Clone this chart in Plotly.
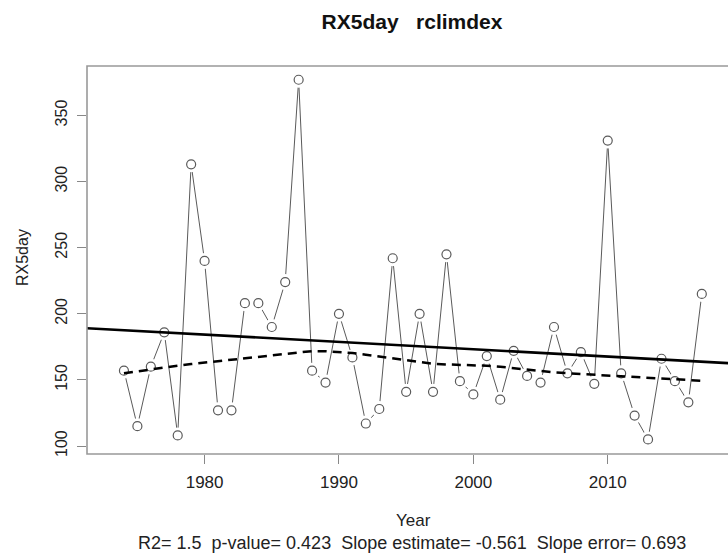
import numpy as np
import plotly.graph_objects as go

years = list(range(1974, 2018))
rx5day = [157, 115, 160, 186, 108, 313, 240, 127, 127, 208, 208, 190, 224, 377,
          157, 148, 200, 167, 117, 128, 242, 141, 200, 141, 245, 149, 139, 168,
          135, 172, 153, 148, 190, 155, 171, 147, 331, 155, 123, 105, 166, 149,
          133, 215]

title_text = "RX5day\u00a0\u00a0\u00a0rclimdex"
y_label = "RX5day"
x_label = "Year"
stats_text = "R2= 1.5\u00a0\u00a0p-value= 0.423\u00a0\u00a0Slope estimate= -0.561\u00a0\u00a0Slope error= 0.693"
x_ticks = [1980, 1990, 2000, 2010]
y_ticks = [100, 150, 200, 250, 300, 350]


def r_lowess(x, y, f=2/3, iters=3):
    x = np.asarray(x, float)
    y = np.asarray(y, float)
    n = len(x)
    ns = max(min(int(f * n + 1e-7), n), 2)
    rw = np.ones(n)
    ys = np.zeros(n)
    rng = x[-1] - x[0]
    for it in range(iters + 1):
        nleft, nright = 0, ns - 1
        for i in range(n):
            while nright < n - 1 and x[i] - x[nleft] > x[nright + 1] - x[i]:
                nleft += 1
                nright += 1
            h = max(x[i] - x[nleft], x[nright] - x[i])
            h9, h1 = 0.999 * h, 0.001 * h
            r = np.abs(x - x[i])
            w = np.zeros(n)
            inside = r <= h9
            w[inside] = (1 - (r[inside] / h) ** 3) ** 3
            w[r <= h1] = 1.0
            w *= rw
            s = w.sum()
            if s <= 0:
                ys[i] = y[i]
                continue
            w = w / s
            a = np.sum(w * x)
            c = np.sum(w * (x - a) ** 2)
            if np.sqrt(c) > 0.001 * rng:
                b = (x[i] - a) / c
                w = w * (b * (x - a) + 1.0)
            ys[i] = np.sum(w * y)
        if it == iters:
            break
        res = y - ys
        cmad = 6 * np.median(np.abs(res))
        if cmad < 1e-7 * np.mean(np.abs(y)):
            break
        ar = np.abs(res)
        rw = np.where(ar <= 0.001 * cmad, 1.0,
                      np.where(ar > 0.999 * cmad, 0.0, (1 - (ar / cmad) ** 2) ** 2))
    return ys


xa = np.array(years, float)
ya = np.array(rx5day, float)
slope, intercept = np.polyfit(xa, ya, 1)
x_range = [1971.25, 2018.95]
trend_x = [x_range[0] - 1, x_range[1] + 1]
trend_y = [intercept + slope * v for v in trend_x]
smooth = r_lowess(xa, ya)

grey = "#5a5a5a"
fig = go.Figure()
fig.add_trace(go.Scatter(x=years, y=rx5day, mode="lines",
                         line=dict(color=grey, width=1), hoverinfo="skip"))
fig.add_trace(go.Scatter(x=years, y=rx5day, mode="markers",
                         marker=dict(symbol="circle", size=16, color="white",
                                     line=dict(width=0)), hoverinfo="skip"))
fig.add_trace(go.Scatter(x=years, y=rx5day, mode="markers",
                         marker=dict(symbol="circle-open", size=9, color=grey,
                                     line=dict(width=1.2, color=grey))))
fig.add_trace(go.Scatter(x=trend_x, y=trend_y, mode="lines",
                         line=dict(color="black", width=2.5), cliponaxis=True))
fig.add_trace(go.Scatter(x=years, y=smooth, mode="lines",
                         line=dict(color="black", width=2.5, dash="9px,6px")))

fig.update_layout(
    width=728, height=555,
    margin=dict(l=87, r=0, t=66, b=101),
    paper_bgcolor="white", plot_bgcolor="white",
    showlegend=False,
    font=dict(family="Liberation Sans, Arial, sans-serif", color="#222"),
    title=dict(text="<b>" + title_text + "</b>", xref="container", x=412 / 728,
               xanchor="center", yref="container", y=1 - 22 / 555, yanchor="middle",
               font=dict(size=21, color="#111")),
    xaxis=dict(range=x_range, tickvals=x_ticks, ticks="outside", ticklen=9,
               tickcolor="#888", tickwidth=1.3, showgrid=False, zeroline=False,
               showline=False, tickfont=dict(size=17, color="#222"),
               ticklabelstandoff=4),
    yaxis=dict(range=[93.95, 387.4], tickvals=y_ticks, ticks="outside", ticklen=9,
               tickcolor="#888", tickwidth=1.3, showgrid=False, zeroline=False,
               showline=False, tickangle=-90, tickfont=dict(size=16, color="#222"),
               ticklabelstandoff=4),
    shapes=[dict(type="rect", xref="paper", yref="paper", x0=0, x1=1.05, y0=0, y1=1,
                 line=dict(color="#999", width=1.6), layer="above")],
    annotations=[
        dict(text=y_label, xref="paper", yref="paper", x=-(87 - 22) / 641, y=(454 - 258) / 388,
             xanchor="center", yanchor="middle", textangle=-90, showarrow=False,
             font=dict(size=16, color="#222")),
        dict(text=x_label, xref="paper", yref="paper", x=(413 - 87) / 641, y=-(520 - 454) / 388,
             xanchor="center", yanchor="middle", showarrow=False,
             font=dict(size=17, color="#222")),
        dict(text=stats_text, xref="paper", yref="paper", x=(412 - 87) / 641, y=-(543 - 454) / 388,
             xanchor="center", yanchor="middle", showarrow=False,
             font=dict(size=18, color="#222")),
    ],
)

fig.write_html("out.html")
